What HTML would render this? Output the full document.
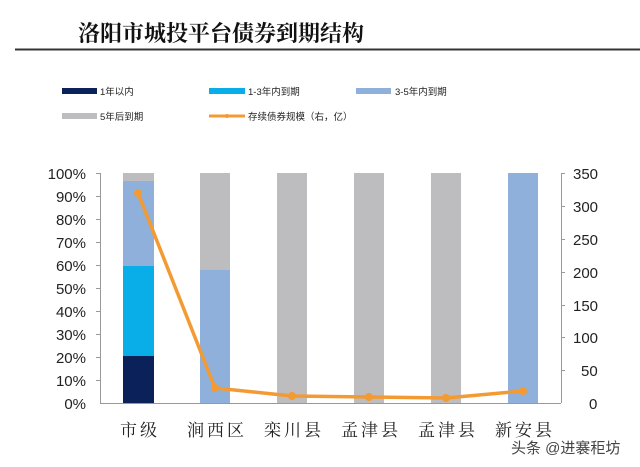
<!DOCTYPE html>
<html><head><meta charset="utf-8"><style>
body{margin:0;background:#fff;width:640px;height:467px;overflow:hidden}
svg{display:block}
</style></head><body>
<svg width="640" height="467" xmlns="http://www.w3.org/2000/svg">
<text x="78" y="41" font-family="'Noto Serif CJK SC','Noto Sans CJK SC',serif" font-weight="bold" font-size="22" fill="#111">洛阳市城投平台债券到期结构</text>
<line x1="15" y1="49.5" x2="640" y2="49.5" stroke="#333" stroke-width="2"/>
<g font-family="'Liberation Sans','Noto Sans CJK SC',sans-serif" font-size="9.5" fill="#222">
<rect x="62" y="88" width="35" height="6" fill="#0b2159"/><text x="100" y="95">1年以内</text>
<rect x="209" y="88" width="36" height="6" fill="#09aee8"/><text x="248" y="95">1-3年内到期</text>
<rect x="356" y="88" width="35" height="6" fill="#8fb0da"/><text x="395" y="95">3-5年内到期</text>
<rect x="62" y="113" width="35" height="6" fill="#bdbdbf"/><text x="100" y="120">5年后到期</text>
<line x1="209" y1="116" x2="245" y2="116" stroke="#f39a33" stroke-width="3"/><circle cx="227" cy="116" r="2" fill="#f39a33"/><text x="248" y="120">存续债券规模（右，亿）</text>
</g>
<g>
<rect x="123" y="356" width="31" height="47" fill="#0b2159"/>
<rect x="123" y="266" width="31" height="90" fill="#09aee8"/>
<rect x="123" y="181" width="31" height="85" fill="#8fb0da"/>
<rect x="123" y="173" width="31" height="8" fill="#bdbdbf"/>
<rect x="200" y="270" width="30" height="133" fill="#8fb0da"/>
<rect x="200" y="173" width="30" height="97" fill="#bdbdbf"/>
<rect x="277" y="173" width="30" height="230" fill="#bdbdbf"/>
<rect x="354" y="173" width="30" height="230" fill="#bdbdbf"/>
<rect x="431" y="173" width="30" height="230" fill="#bdbdbf"/>
<rect x="508" y="173" width="30" height="230" fill="#8fb0da"/>
</g>
<g stroke="#999" stroke-width="1">
<line x1="100.5" y1="173" x2="100.5" y2="403"/>
<line x1="100" y1="403.5" x2="561" y2="403.5"/>
<line x1="561.5" y1="173" x2="561.5" y2="403"/>
<line x1="96" y1="173.5" x2="100" y2="173.5"/><line x1="96" y1="196.5" x2="100" y2="196.5"/><line x1="96" y1="219.5" x2="100" y2="219.5"/><line x1="96" y1="242.5" x2="100" y2="242.5"/><line x1="96" y1="265.5" x2="100" y2="265.5"/><line x1="96" y1="288.5" x2="100" y2="288.5"/><line x1="96" y1="311.5" x2="100" y2="311.5"/><line x1="96" y1="334.5" x2="100" y2="334.5"/><line x1="96" y1="357.5" x2="100" y2="357.5"/><line x1="96" y1="380.5" x2="100" y2="380.5"/>
<line x1="561" y1="173.5" x2="565" y2="173.5"/><line x1="561" y1="206.5" x2="565" y2="206.5"/><line x1="561" y1="239.5" x2="565" y2="239.5"/><line x1="561" y1="272.5" x2="565" y2="272.5"/><line x1="561" y1="305.5" x2="565" y2="305.5"/><line x1="561" y1="337.5" x2="565" y2="337.5"/><line x1="561" y1="370.5" x2="565" y2="370.5"/>
</g>
<g font-family="'Liberation Sans',sans-serif" font-size="15" fill="#222" text-anchor="end">
<text x="86" y="179">100%</text><text x="86" y="202">90%</text><text x="86" y="225">80%</text><text x="86" y="248">70%</text><text x="86" y="271">60%</text><text x="86" y="294">50%</text><text x="86" y="317">40%</text><text x="86" y="340">30%</text><text x="86" y="363">20%</text><text x="86" y="386">10%</text><text x="86" y="409">0%</text>
</g>
<g font-family="'Liberation Sans',sans-serif" font-size="15" fill="#222" text-anchor="start">
<text x="573" y="179">350</text><text x="573" y="212">300</text><text x="573" y="245">250</text><text x="573" y="278">200</text><text x="573" y="311">150</text><text x="573" y="343">100</text><text x="581" y="376">50</text><text x="589" y="409">0</text>
</g>
<g font-family="'Noto Serif CJK SC','Noto Sans CJK SC',serif" font-size="17" fill="#222" text-anchor="middle" letter-spacing="3">
<text x="140" y="436">市级</text><text x="217" y="436">涧西区</text><text x="294" y="436">栾川县</text><text x="371" y="436">孟津县</text><text x="448" y="436">孟津县</text><text x="525" y="436">新安县</text>
</g>
<polyline points="138,193 215,388 292,396 369,397 446,398 523,391" fill="none" stroke="#f39a33" stroke-width="3.5" stroke-linejoin="round"/>
<g fill="#f39a33"><circle cx="138" cy="193" r="4"/><circle cx="215" cy="388" r="4"/><circle cx="292" cy="396" r="4"/><circle cx="369" cy="397" r="4"/><circle cx="446" cy="398" r="4"/><circle cx="523" cy="391" r="4"/></g>
<text x="511" y="453" font-family="'Liberation Sans','Noto Sans CJK SC',sans-serif" font-size="15" fill="#444">头条 @进褰秬坊</text>
</svg>
</body></html>
